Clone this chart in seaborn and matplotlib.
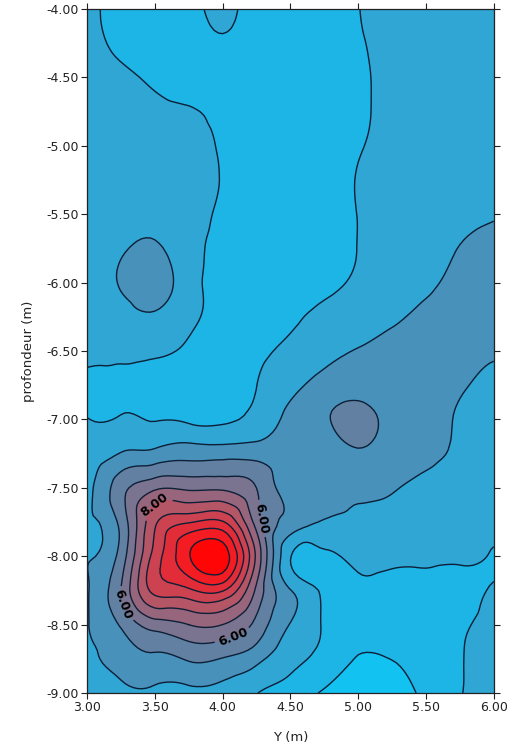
import numpy as np
import pandas as pd
import seaborn as sns
import matplotlib
matplotlib.use("Agg")
import matplotlib.pyplot as plt
import matplotlib.tri as mtri
from matplotlib.ticker import FormatStrFormatter

sns.set_style("ticks")
plt.rcParams['font.family'] = ['DejaVu Sans']
plt.rcParams['axes.unicode_minus'] = False

# horizontal position Y (m)
y_pos = [3.00, 3.25, 3.50, 3.75, 4.00, 4.25, 4.50, 4.75, 5.00, 5.25, 5.50, 5.75, 6.00]
# depth (m), top to bottom
depth = [-4.00, -4.25, -4.50, -4.75, -5.00, -5.25, -5.50, -5.75, -6.00, -6.25, -6.50,
         -6.75, -7.00, -7.25, -7.50, -7.75, -8.00, -8.25, -8.50, -8.75, -9.00]

# values, one row per depth
r_400 = [3.2, 2.7, 2.5, 2.7, 3.2, 2.6, 2.5, 2.7, 2.98, 3.3, 3.4, 3.5, 3.5]
r_425 = [3.3, 2.8, 2.5, 2.5, 2.85, 2.5, 2.4, 2.6, 2.9, 3.3, 3.4, 3.5, 3.5]
r_450 = [3.5, 3.2, 2.8, 2.5, 2.4, 2.3, 2.3, 2.5, 2.8, 3.3, 3.5, 3.6, 3.6]
r_475 = [3.6, 3.5, 3.3, 3.1, 2.7, 2.4, 2.3, 2.5, 2.8, 3.3, 3.5, 3.6, 3.7]
r_500 = [3.6, 3.6, 3.5, 3.3, 2.9, 2.5, 2.3, 2.4, 2.9, 3.3, 3.5, 3.7, 3.8]
r_525 = [3.6, 3.7, 3.6, 3.4, 2.95, 2.5, 2.3, 2.5, 3.05, 3.3, 3.5, 3.7, 3.8]
r_550 = [3.5, 3.7, 3.8, 3.4, 2.85, 2.5, 2.3, 2.5, 3.02, 3.3, 3.5, 3.8, 3.95]
r_575 = [3.5, 3.9, 4.1, 3.4, 2.7, 2.4, 2.3, 2.5, 3.02, 3.4, 3.7, 4.02, 4.2]
r_600 = [3.5, 4.05, 4.3, 3.5, 2.5, 2.4, 2.4, 2.7, 3.15, 3.5, 3.85, 4.2, 4.4]
r_625 = [3.4, 3.8, 3.9, 3.3, 2.6, 2.5, 2.8, 3.3, 3.6, 3.85, 4.2, 4.4, 4.4]
r_650 = [3.3, 3.4, 3.2, 2.8, 2.6, 2.8, 3.2, 3.7, 4.05, 4.3, 4.4, 4.3, 4.1]
r_675 = [2.7, 2.6, 2.5, 2.5, 2.7, 2.99, 3.7, 4.4, 4.7, 4.6, 4.4, 4.1, 3.8]
r_700 = [3.02, 3.1, 2.95, 2.85, 2.85, 3.3, 4.3, 4.9, 5.2, 4.8, 4.4, 3.9, 3.6]
r_725 = [3.4, 4.05, 4.3, 4.6, 4.6, 4.6, 4.5, 4.6, 4.9, 4.6, 4.3, 3.8, 3.5]
r_750 = [3.7, 5.6, 6.8, 6.8, 6.8, 6.0, 4.5, 4.5, 4.3, 4.1, 3.7, 3.4, 3.3]
r_775 = [3.8, 5.3, 8.8, 9.9, 10.1, 6.6, 4.6, 3.9, 3.7, 3.6, 3.5, 3.4, 3.3]
r_800 = [3.9, 5.4, 9.4, 11.9, 12.6, 7.8, 3.05, 2.85, 3.2, 3.2, 3.2, 3.15, 2.9]
r_825 = [3.9, 6.0, 9.3, 9.8, 10.1, 6.8, 4.05, 2.8, 2.75, 2.7, 2.7, 2.7, 3.1]
r_850 = [3.95, 5.1, 6.5, 7.0, 7.0, 5.7, 3.95, 2.9, 2.4, 2.5, 2.6, 2.85, 3.3]
r_875 = [3.8, 4.4, 4.8, 5.1, 4.95, 4.3, 3.3, 2.7, 1.95, 2.02, 2.5, 2.95, 3.3]
r_900 = [3.5, 3.7, 3.75, 3.7, 3.65, 3.03, 2.6, 1.85, 1.6, 1.7, 2.2, 2.95, 3.3]

rows = [r_400, r_425, r_450, r_475, r_500, r_525, r_550, r_575, r_600, r_625, r_650,
        r_675, r_700, r_725, r_750, r_775, r_800, r_825, r_850, r_875, r_900]

levels = list(range(1, 14))
labelled = [6, 8]
band_colors = ["#12C3F2", "#1DB4E6", "#2FA6D4", "#4791BB", "#6280A2", "#7A7490",
               "#98667C", "#B45666", "#CC4250", "#E22C38", "#F21C22", "#FF0505"]

grid = pd.DataFrame(np.array(rows), index=depth, columns=y_pos)
X, Y = np.meshgrid(grid.columns.values, grid.index.values)

# smooth contouring: matplotlib's own triangulation refiner
tri = mtri.Triangulation(X.ravel(), Y.ravel())
interp = mtri.CubicTriInterpolator(tri, grid.values.ravel(), kind="min_E")
refiner = mtri.UniformTriRefiner(tri)
tri_f, z_f = refiner.refine_field(grid.values.ravel(), triinterpolator=interp, subdiv=3)

fig = plt.figure(figsize=(5.08, 7.44), dpi=100)
ax = fig.add_axes([0.171, 0.0685, 0.801, 0.9195])

line_kw = dict(colors="#0C2038", linewidths=1.0)
lab_kw = dict(fmt="%.2f", fontsize=9, inline=True, colors="black")

ax.tricontourf(tri_f, z_f, levels=levels, colors=band_colors, extend="both")
plain = [lv for lv in levels[1:-1] if lv not in labelled]
ax.tricontour(tri_f, z_f, levels=plain, **line_kw)
cs8 = ax.tricontour(tri_f, z_f, levels=[8], **line_kw)
t8 = ax.clabel(cs8, manual=[(3.45, -7.55)], **lab_kw)
cs6 = ax.tricontour(tri_f, z_f, levels=[6], **line_kw)
t6 = ax.clabel(cs6, manual=[(4.31, -7.72), (3.25, -8.36), (4.07, -8.57)], **lab_kw)
for t in list(t8) + list(t6):
    t.set_fontweight("bold")

ax.set_xlim(3, 6)
ax.set_ylim(-9, -4)
ax.set_xticks(np.arange(3.0, 6.01, 0.5))
ax.set_yticks(np.arange(-9.0, -3.99, 0.5))
ax.xaxis.set_major_formatter(FormatStrFormatter("%.2f"))
ax.yaxis.set_major_formatter(FormatStrFormatter("%.2f"))
ax.tick_params(direction="out", length=4, width=0.8, top=True, right=True,
               labelsize=9, colors="#222222", pad=2)
for sp in ax.spines.values():
    sp.set_visible(True)
    sp.set_linewidth(0.9)
    sp.set_color("#222222")

ax.set_xlabel("Y (m)", fontsize=9.5, color="#222222", labelpad=12)
ax.set_ylabel("profondeur (m)", fontsize=9.5, color="#222222", labelpad=8)

fig.savefig("out.png", dpi=100)
